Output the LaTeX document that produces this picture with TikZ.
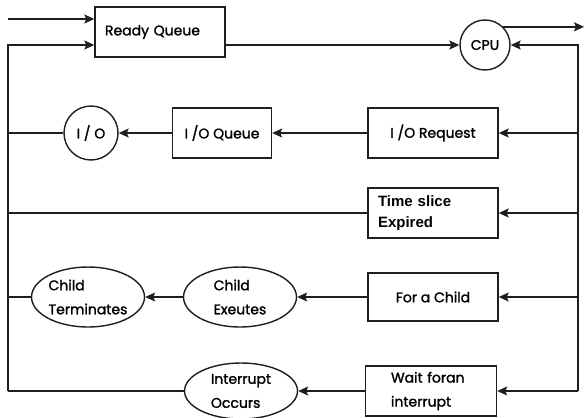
\documentclass[tikz,border=0pt]{standalone}
\usepackage{fontspec}
\setmainfont{Poppins}[FakeBold=1.5]
\newfontfamily\slicefont{Liberation Sans}
\usetikzlibrary{calc, shapes.geometric, arrows.meta, positioning}
\tikzstyle{queue}=[draw, rectangle, minimum height=50pt, inner sep=0pt,
font=\fontsize{14}{24}\selectfont]
\tikzstyle{unit}=[draw, circle, inner sep=0pt, font=\fontsize{14}{16}\selectfont]
\tikzstyle{event}=[draw, ellipse, minimum width=113pt, minimum height=60pt,
inner sep=0pt, align=left, font=\fontsize{14}{24}\selectfont]
\tikzstyle{flow}=[-{Stealth[length=10pt, width=9pt, inset=2pt]}]
\definecolor{mylinegray}{RGB}{30,30,30}

\begin{document}
\begin{tikzpicture}[x=1pt, y=-1pt, line width=1.4pt, draw=mylinegray]
\useasboundingbox (0, 0) rectangle (585, 417);
\draw (160, 32) node [queue, minimum width=130pt, text width=110pt, align=left] (rq) {Ready Queue};
\draw (485, 45) node [unit, minimum size=50pt] (cpu) {CPU};
\draw (433, 133) node [queue, minimum width=130pt, align=center] (ioreq) {I /O Request};
\draw (222, 133) node [queue, minimum width=99pt, align=center] (ioq) {I /O Queue};
\draw (91, 133) node [unit, minimum size=54pt] (io) {I / O};
\draw (433, 213) node [queue, minimum width=130pt, text width=110pt, align=left,
  font=\slicefont\bfseries\fontsize{15}{21}\selectfont] (ts) {Time slice\\Expired};
\draw (433, 297) node [queue, minimum width=130pt, minimum height=48pt, align=center] (fc) {For a Child};
\draw (240, 297) node [event] (cex) {Child\\Exeutes};
\draw (88, 297) node [event] (ctm) {Child\\Terminates};
\draw (431, 391) node [queue, minimum width=131pt, text width=80pt, align=left] (wait) {Wait foran\\interrupt};
\draw (241, 391) node [event, minimum height=56pt] (intr) {Interrupt\\Occurs};
\coordinate (in) at (8, 19);
\coordinate (out) at (584, 27);
\coordinate (lt) at (8, 45);
\coordinate (lb) at (8, 391);
\coordinate (rt) at (578, 45);
\coordinate (rb) at (578, 391);
\draw [flow] (in) -- (in -| rq.west);
\draw [flow] (lb) -- (lt) -- (lt -| rq.west);
\draw [flow] (lt -| rq.east) -- (cpu.west);
\draw [flow] (cpu.45) -- (cpu.45 -| out);
\draw [flow] (rb) -- (rt) -- (cpu.east);
\draw [flow] (rt |- ioreq) -- (ioreq.east);
\draw [flow] (ioreq.west) -- (ioq.east);
\draw [flow] (ioq.west) -- (io.east);
\draw (io.west) -- (lt |- io);
\draw [flow] (rt |- ts) -- (ts.east);
\draw (ts.west) -- (lt |- ts);
\draw [flow] (rt |- fc) -- (fc.east);
\draw [flow] (fc.west) -- (cex.east);
\draw [flow] (cex.west) -- (ctm.east);
\draw (ctm.west) -- (lt |- ctm);
\draw [flow] (rb) -- (wait.east);
\draw [flow] (wait.west) -- (intr.east);
\draw (intr.west) -- (lb);
\end{tikzpicture}
\end{document}
